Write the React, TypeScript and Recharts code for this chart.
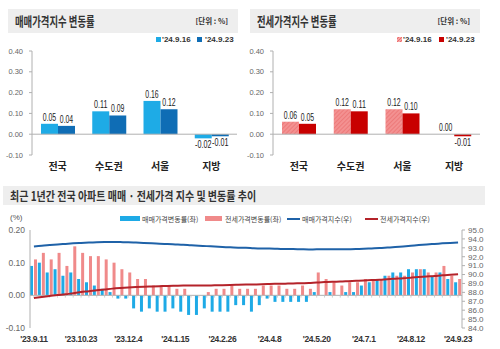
import React from 'react';
import { BarChart, Bar, XAxis, YAxis, ReferenceLine, LabelList, ComposedChart, Line } from 'recharts';

// ---------- top panels ----------
const topCategories = ['전국', '수도권', '서울', '지방'];
const saleRate0916 = [0.05, 0.11, 0.16, -0.02];
const saleRate0923 = [0.04, 0.09, 0.12, -0.01];
const jeonseRate0916 = [0.06, 0.12, 0.12, 0.0];
const jeonseRate0923 = [0.05, 0.11, 0.1, -0.01];
const topTicks = [-0.1, 0, 0.1, 0.2, 0.3, 0.4];
const legendWeeks = ["'24.9.16", "'24.9.23"];

// ---------- bottom panel ----------
const weeks = [
  "'23.9.11", "'23.9.18", "'23.9.25", "'23.10.2", "'23.10.9", "'23.10.16", "'23.10.23", "'23.10.30",
  "'23.11.6", "'23.11.13", "'23.11.20", "'23.11.27", "'23.12.4", "'23.12.11", "'23.12.18", "'23.12.25",
  "'24.1.1", "'24.1.8", "'24.1.15", "'24.1.22", "'24.1.29", "'24.2.5", "'24.2.12", "'24.2.19",
  "'24.2.26", "'24.3.4", "'24.3.11", "'24.3.18", "'24.3.25", "'24.4.1", "'24.4.8", "'24.4.15",
  "'24.4.22", "'24.4.29", "'24.5.6", "'24.5.13", "'24.5.20", "'24.5.27", "'24.6.3", "'24.6.10",
  "'24.6.17", "'24.6.24", "'24.7.1", "'24.7.8", "'24.7.15", "'24.7.22", "'24.7.29", "'24.8.5",
  "'24.8.12", "'24.8.19", "'24.8.26", "'24.9.2", "'24.9.9", "'24.9.16", "'24.9.23",
];
const saleRate = [
  0.09, 0.10, 0.07, 0.08, 0.06, 0.07, 0.05, 0.04, 0.03, 0.02, 0.01, -0.01, -0.01, -0.04,
  -0.05, -0.04, -0.05, -0.05, -0.04, -0.05, -0.06, -0.06, -0.04, -0.05, -0.05, -0.05, -0.03,
  -0.03, -0.05, -0.03, -0.01, -0.02, -0.02, -0.02, -0.02, -0.02, 0.01, 0.0, 0.01, 0.0, 0.01,
  0.01, 0.03, 0.04, 0.05, 0.06, 0.07, 0.07, 0.08, 0.08, 0.08, 0.06, 0.07, 0.05, 0.04,
];
const jeonseRate = [
  0.11, 0.13, 0.11, 0.13, 0.09, 0.15, 0.13, 0.12, 0.12, 0.11, 0.10, 0.08, 0.07, 0.05,
  0.05, 0.03, 0.03, 0.03, 0.02, 0.02, 0.0, 0.0, 0.01, 0.02, 0.02, 0.03, 0.02,
  0.02, 0.02, 0.03, 0.03, 0.03, 0.02, 0.02, 0.03, 0.02, 0.07, 0.05, 0.04, 0.03, 0.04,
  0.04, 0.05, 0.05, 0.05, 0.06, 0.06, 0.06, 0.07, 0.08, 0.07, 0.07, 0.09, 0.06, 0.05,
];
const saleIndex = [
  93.15, 93.24, 93.31, 93.38, 93.44, 93.5, 93.55, 93.59, 93.62, 93.64, 93.65, 93.64, 93.63, 93.59,
  93.55, 93.51, 93.47, 93.42, 93.38, 93.34, 93.28, 93.23, 93.19, 93.14, 93.1, 93.05, 93.02,
  93.0, 92.95, 92.92, 92.91, 92.89, 92.87, 92.86, 92.84, 92.82, 92.83, 92.83, 92.84, 92.84, 92.85,
  92.86, 92.89, 92.93, 92.97, 93.03, 93.09, 93.16, 93.23, 93.31, 93.38, 93.44, 93.5, 93.55, 93.59,
];
const jeonseIndex = [
  87.38, 87.49, 87.59, 87.7, 87.78, 87.91, 88.03, 88.13, 88.24, 88.33, 88.42, 88.49, 88.55, 88.6,
  88.64, 88.67, 88.7, 88.72, 88.74, 88.76, 88.76, 88.76, 88.77, 88.79, 88.81, 88.83, 88.85,
  88.87, 88.89, 88.91, 88.94, 88.96, 88.98, 89.0, 89.03, 89.05, 89.11, 89.15, 89.19, 89.21, 89.25,
  89.29, 89.33, 89.38, 89.42, 89.48, 89.53, 89.58, 89.65, 89.72, 89.78, 89.84, 89.92, 89.97, 90.02,
];
const leftTicks = [-0.1, 0, 0.1, 0.2];
const rightTicks = [84, 85, 86, 87, 88, 89, 90, 91, 92, 93, 94, 95];
const bottomLegend = ['매매가격변동률(좌)', '전세가격변동률(좌)', '매매가격지수(우)', '전세가격지수(우)'];

const saleData = topCategories.map((c, i) => ({ name: c, a: saleRate0916[i], b: saleRate0923[i] }));
const jeonseData = topCategories.map((c, i) => ({ name: c, a: jeonseRate0916[i], b: jeonseRate0923[i] }));
const weeklyData = weeks.map((w, i) => ({
  week: w,
  saleRate: saleRate[i],
  jeonseRate: jeonseRate[i],
  saleIndex: saleIndex[i],
  jeonseIndex: jeonseIndex[i],
}));

const FONT_KR = '"Noto Sans CJK KR", "Noto Sans", sans-serif';
const FONT_AX = '"Liberation Sans", Arial, sans-serif';

const C = {
  header: '#eeeeee',
  sale1: '#1eabe6',
  sale2: '#0f6db5',
  jeonse2: '#c80000',
  axis: '#b0b0b0',
  barSale: '#1eaae6',
  barJeonse: '#f08a8a',
  lineSale: '#1f62a8',
  lineJeonse: '#b4232a',
};

function Header({ left, top, width, height, title, unit, size, scale }: any) {
  return (
    <div style={{ position: 'absolute', left, top, width, height, background: C.header }}>
      <div
        style={{
          position: 'absolute', left: 7, top: 0, height, lineHeight: height + 'px', fontFamily: FONT_KR,
          fontSize: size, color: '#333', whiteSpace: 'nowrap', transform: `scaleX(${scale})`,
          transformOrigin: 'left center', fontWeight: 600,
        }}
      >
        {title}
      </div>
      {unit ? (
        <div
          style={{
            position: 'absolute', right: 10, top: 0, lineHeight: height + 'px', fontSize: 7.5,
            fontWeight: 'bold', fontFamily: FONT_KR, color: '#333', whiteSpace: 'nowrap',
          }}
        >
          {unit}
        </div>
      ) : null}
    </div>
  );
}

function Swatch({ left, top, w, h, bg }: any) {
  return <div style={{ position: 'absolute', left, top, width: w, height: h, background: bg }} />;
}

function LegendText({ left, top, text, size, bold, color, font }: any) {
  return (
    <div
      style={{
        position: 'absolute', left, top, fontSize: size, lineHeight: '10px', height: 10,
        fontWeight: bold ? 'bold' : 'normal', color: color || '#333', fontFamily: font, whiteSpace: 'nowrap',
      }}
    >
      {text}
    </div>
  );
}

const fmt2 = (v: any) => Number(v).toFixed(2);

// value label drawn condensed, above positive bars and below negative ones
const renderValueLabel = (props: any) => {
  const { x, y, width, height, value } = props;
  if (value === null || value === undefined) return null;
  const v = Number(value);
  const s = v.toFixed(2);
  const h = Number(height) || 0;
  const top = Math.min(y, y + h);
  const bottom = Math.max(y, y + h);
  const ty = v < 0 ? bottom + 10 : top - 3;
  const digits = s.replace(/[^0-9]/g, '').length;
  const len = digits * 3.8 + 2 + (s.startsWith('-') ? 3 : 0);
  return (
    <text
      x={x + width / 2}
      y={ty}
      textAnchor="middle"
      fontSize={10.5}
      fill="#1a1a1a"
      fontFamily={FONT_AX}
      textLength={len}
      lengthAdjust="spacingAndGlyphs"
    >
      {s}
    </text>
  );
};

function TopChart({ data, fillA, fillB, defs, marginLeft, marginRight, yWidth }: any) {
  return (
    <BarChart
      width={250}
      height={175}
      data={data}
      margin={{ top: 51, right: marginRight, left: marginLeft, bottom: 0 }}
      barGap={0}
      barSize={17}
    >
      {defs}
      <YAxis
        domain={[-0.1, 0.4]}
        ticks={topTicks}
        tickFormatter={fmt2}
        width={yWidth}
        axisLine={{ stroke: C.axis }}
        tickLine={{ stroke: C.axis }}
        tickSize={3}
        tickMargin={6}
        tick={{ fontSize: 7.5, fill: '#666', fontFamily: FONT_AX }}
        interval={0}
      />
      <XAxis
        dataKey="name"
        axisLine={false}
        tickLine={false}
        height={20}
        tick={{ fontSize: 10, fill: '#222', fontFamily: FONT_KR, fontWeight: 'bold' }}
        interval={0}
      />
      <ReferenceLine y={0} stroke={C.axis} />
      <Bar dataKey="a" fill={fillA} isAnimationActive={false} minPointSize={0.01}>
        <LabelList dataKey="a" content={renderValueLabel} />
      </Bar>
      <Bar dataKey="b" fill={fillB} isAnimationActive={false} minPointSize={0.01}>
        <LabelList dataKey="b" content={renderValueLabel} />
      </Bar>
    </BarChart>
  );
}

export default function App() {
  return (
    <div style={{ position: 'absolute', left: 0, top: 0, width: 500, height: 349, background: '#fff', overflow: 'hidden' }}>
      {/* top-left panel */}
      <Header left={8} top={9} width={230} height={24} title="매매가격지수 변동률" unit="[단위 : %]" size={13} scale={0.72} />
      <Swatch left={156} top={37} w={5} h={5} bg={C.sale1} />
      <LegendText left={162} top={35} text={legendWeeks[0]} size={8} bold font={FONT_AX} />
      <Swatch left={197} top={37} w={5} h={5} bg={C.sale2} />
      <LegendText left={205} top={35} text={legendWeeks[1]} size={8} bold font={FONT_AX} />
      <div style={{ position: 'absolute', left: 0, top: 0 }}>
        <TopChart data={saleData} fillA={C.sale1} fillB={C.sale2} marginLeft={4} marginRight={13} yWidth={28} />
      </div>

      {/* top-right panel */}
      <Header left={250} top={9} width={230} height={24} title="전세가격지수 변동률" unit="[단위 : %]" size={13} scale={0.72} />
      <div
        style={{
          position: 'absolute', left: 397, top: 37, width: 5, height: 5,
          background: 'repeating-linear-gradient(135deg, #f6a3a3 0px, #f6a3a3 1px, #ec6f6f 1px, #ec6f6f 2px)',
        }}
      />
      <LegendText left={403} top={35} text={legendWeeks[0]} size={8} bold font={FONT_AX} />
      <Swatch left={439} top={37} w={5} h={5} bg={C.jeonse2} />
      <LegendText left={446} top={35} text={legendWeeks[1]} size={8} bold font={FONT_AX} />
      <div style={{ position: 'absolute', left: 245, top: 0 }}>
        <TopChart
          data={jeonseData}
          fillA="url(#hatchPink)"
          fillB={C.jeonse2}
          marginLeft={4}
          marginRight={15}
          yWidth={24}
          defs={
            <defs>
              <pattern id="hatchPink" width="3" height="3" patternUnits="userSpaceOnUse" patternTransform="rotate(45)">
                <rect width="3" height="3" fill="#f39191" />
                <line x1="0" y1="0" x2="0" y2="3" stroke="#e96a6a" strokeWidth="1.2" />
              </pattern>
            </defs>
          }
        />
      </div>

      {/* bottom panel */}
      <Header
        left={3}
        top={186}
        width={482}
        height={19}
        title="최근 1년간 전국 아파트 매매 · 전세가격 지수 및 변동률 추이"
        size={12.5}
        scale={0.8}
      />
      <LegendText left={10} top={213} text="(%)" size={8} color="#555" font={FONT_AX} />
      <Swatch left={120} top={216} w={20} h={5} bg={C.barSale} />
      <LegendText left={142} top={213.5} text={bottomLegend[0]} size={7} color="#444" font={FONT_KR} />
      <Swatch left={205} top={216} w={17} h={5} bg={C.barJeonse} />
      <LegendText left={225} top={213.5} text={bottomLegend[1]} size={7} color="#444" font={FONT_KR} />
      <Swatch left={287} top={218} w={13} h={2} bg={C.lineSale} />
      <LegendText left={302} top={213.5} text={bottomLegend[2]} size={7} color="#444" font={FONT_KR} />
      <Swatch left={365} top={218} w={13} h={2} bg={C.lineJeonse} />
      <LegendText left={380} top={213.5} text={bottomLegend[3]} size={7} color="#444" font={FONT_KR} />
      <div style={{ position: 'absolute', left: 0, top: 180 }}>
        <ComposedChart
          width={500}
          height={169}
          data={weeklyData}
          margin={{ top: 50, right: 0, left: 0, bottom: 0 }}
          barSize={3}
          barGap={1}
        >
          <YAxis
            yAxisId="left"
            domain={[-0.1, 0.2]}
            ticks={leftTicks}
            tickFormatter={fmt2}
            width={30}
            axisLine={{ stroke: C.axis }}
            tickLine={false}
            tickSize={3}
            tickMargin={2}
            tick={{ fontSize: 8.5, fill: '#666', fontFamily: FONT_AX }}
            interval={0}
          />
          <YAxis
            yAxisId="right"
            orientation="right"
            domain={[84, 95]}
            ticks={rightTicks}
            tickFormatter={(v: any) => Number(v).toFixed(1)}
            width={38}
            axisLine={{ stroke: C.axis }}
            tickLine={{ stroke: C.axis }}
            tickSize={3}
            tickMargin={3}
            tick={{ fontSize: 8, fill: '#666', fontFamily: FONT_AX }}
            interval={0}
          />
          <XAxis
            dataKey="week"
            axisLine={false}
            tickLine={false}
            height={21}
            interval={5}
            tick={{ fontSize: 8.5, fill: '#333', fontFamily: FONT_AX, fontWeight: 'bold', letterSpacing: -0.3 }}
          />
          <ReferenceLine yAxisId="left" y={0} stroke={C.axis} />
          {weeks.map((w) => (
            <ReferenceLine
              key={w}
              yAxisId="left"
              segment={[{ x: w, y: 0 }, { x: w, y: -0.007 }]}
              stroke="#c4c4c4"
              strokeWidth={0.8}
            />
          ))}
          <Bar yAxisId="left" dataKey="saleRate" fill={C.barSale} isAnimationActive={false} />
          <Bar yAxisId="left" dataKey="jeonseRate" fill={C.barJeonse} isAnimationActive={false} />
          <Line yAxisId="right" dataKey="saleIndex" stroke={C.lineSale} strokeWidth={2} dot={false} isAnimationActive={false} type="monotone" />
          <Line yAxisId="right" dataKey="jeonseIndex" stroke={C.lineJeonse} strokeWidth={2} dot={false} isAnimationActive={false} type="monotone" />
        </ComposedChart>
      </div>
    </div>
  );
}
